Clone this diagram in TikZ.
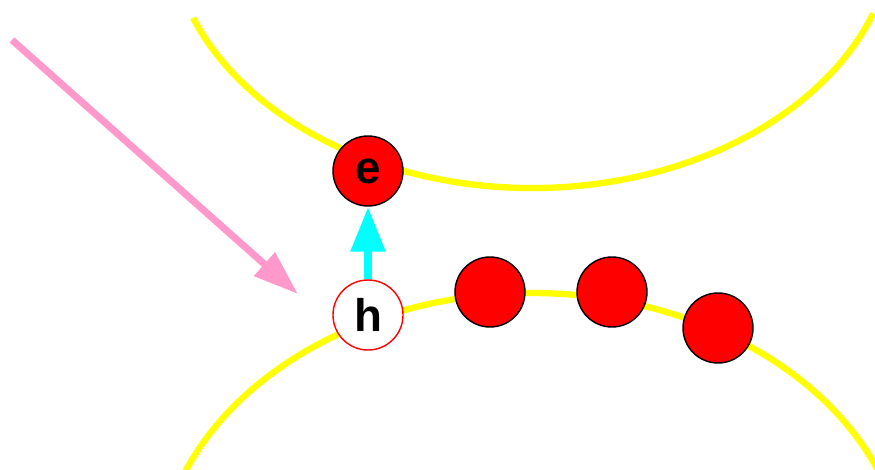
\documentclass[tikz,border=0pt]{standalone}
\usepackage{fontspec}
\setmainfont{Liberation Sans}
\usetikzlibrary{arrows.meta}

\definecolor{bandyellow}{RGB}{255,255,0}
\definecolor{photonpink}{RGB}{255,153,204}
\definecolor{jumpcyan}{RGB}{0,255,255}

\tikzset{
  band/.style={
    draw=bandyellow,
    line width=3.6pt
  },
  electron/.style={
    circle,
    draw=black,
    line width=0.8pt,
    fill=red,
    minimum size=1.4cm,
    inner sep=0pt,
    font=\fontsize{26}{28}\selectfont\bfseries
  },
  hole/.style={
    electron,
    draw=red,
    fill=white
  }
}

\begin{document}
\begin{tikzpicture}
  \useasboundingbox (0,0) rectangle (17.5,9.38);
  \clip (0,0) rectangle (17.5,9.38);

  \draw[band] (10.64,10.92) ++(201:7.26 and 5.3) arc [start angle=201, end angle=340, x radius=7.26, y radius=5.3];
  \draw[band] (10.64,-2.2) ++(180:7.48 and 5.72) arc [start angle=180, end angle=0, x radius=7.48, y radius=5.72];

  \node[electron] (e) at (7.36,5.96) {e};
  \node[hole] (h) at (7.36,3.08) {h};
  \node[electron] (r1) at (9.8,3.54) {};
  \node[electron] (r2) at (12.24,3.54) {};
  \node[electron] (r3) at (14.36,2.82) {};

  \coordinate (p1) at (0.24,8.58);
  \coordinate (p2) at (5.96,3.5);
  \draw[photonpink, line width=4pt, -{Triangle[length=0.9cm, width=0.6cm]}] (p1) -- (p2);

  \draw[jumpcyan, line width=5pt, -{Triangle[length=0.9cm, width=0.66cm]}] (h) -- (e);
\end{tikzpicture}
\end{document}
